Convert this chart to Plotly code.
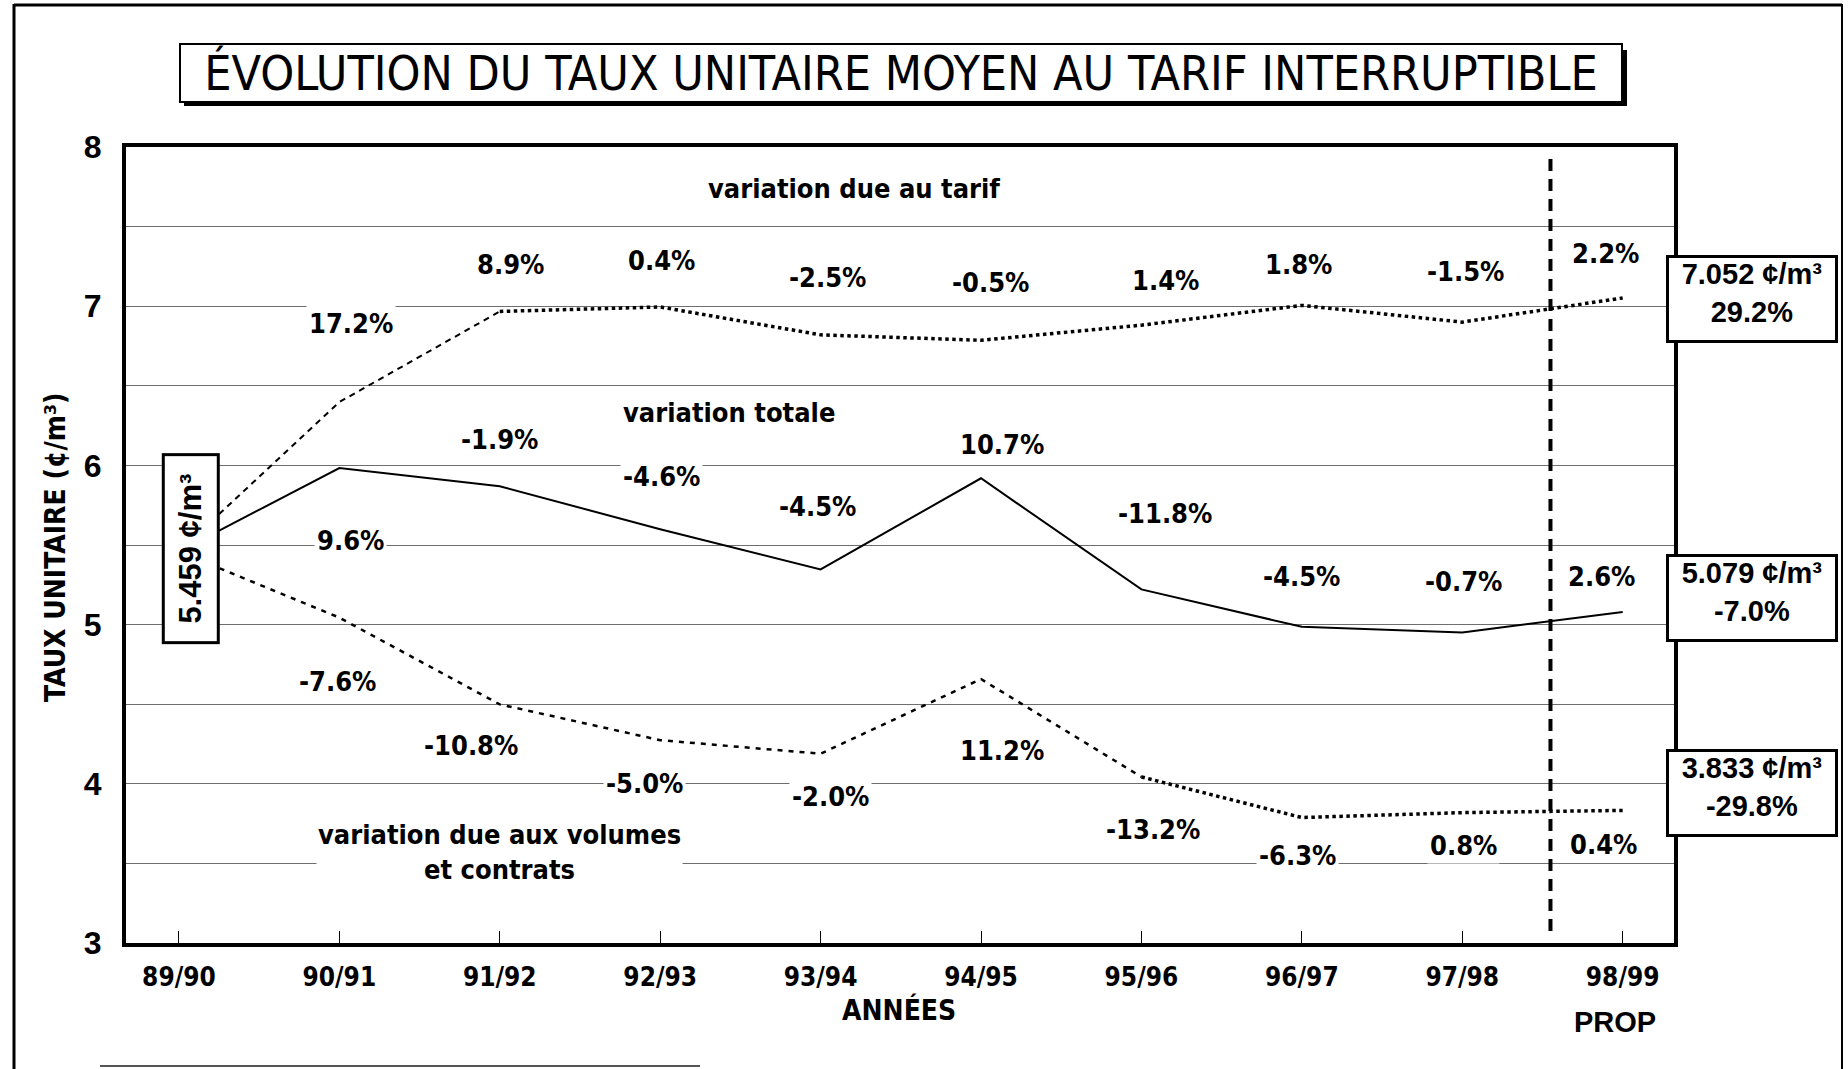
import plotly.graph_objects as go

# ---------------- data ----------------
years = ["89/90", "90/91", "91/92", "92/93", "93/94", "94/95", "95/96", "96/97", "97/98", "98/99"]
tarif = [5.459, 6.398, 6.967, 6.995, 6.820, 6.786, 6.881, 7.005, 6.900, 7.052]
totale = [5.459, 5.983, 5.869, 5.599, 5.347, 5.919, 5.221, 4.986, 4.951, 5.079]
volumes = [5.459, 5.044, 4.499, 4.274, 4.189, 4.658, 4.043, 3.788, 3.819, 3.833]

tarif_pct = ["17.2%", "8.9%", "0.4%", "-2.5%", "-0.5%", "1.4%", "1.8%", "-1.5%", "2.2%"]
totale_pct = ["9.6%", "-1.9%", "-4.6%", "-4.5%", "10.7%", "-11.8%", "-4.5%", "-0.7%", "2.6%"]
volumes_pct = ["-7.6%", "-10.8%", "-5.0%", "-2.0%", "11.2%", "-13.2%", "-6.3%", "0.8%", "0.4%"]

# label positions (x index, y value)
tarif_lab_x = [1.07, 2.07, 3.01, 4.04, 5.06, 6.15, 6.98, 8.02, 8.89]
tarif_lab_y = [6.89, 7.26, 7.29, 7.18, 7.15, 7.16, 7.26, 7.22, 7.33]
totale_lab_x = [1.07, 2.0, 3.01, 3.98, 5.13, 6.15, 7.0, 8.01, 8.87]
totale_lab_y = [5.53, 6.16, 5.93, 5.74, 6.13, 5.70, 5.30, 5.27, 5.30]
volumes_lab_x = [0.99, 1.82, 2.9, 4.06, 5.13, 6.07, 6.97, 8.01, 8.88]
volumes_lab_y = [4.64, 4.24, 4.00, 3.92, 4.21, 3.71, 3.55, 3.61, 3.62]

start_label = "5.459 ¢/m³"
end_labels = ["7.052 ¢/m³<br>29.2%", "5.079 ¢/m³<br>-7.0%", "3.833 ¢/m³<br>-29.8%"]
end_label_y = [7.044, 5.17, 3.94]

title_text = "ÉVOLUTION DU TAUX UNITAIRE MOYEN AU TARIF INTERRUPTIBLE"

# ---------------- layout constants ----------------
W, H = 1848, 1069
L, R, T, B = 126, 1674, 147, 943
YMIN, YMAX = 3, 8
NARROW = "DejaVu Sans Condensed, Liberation Sans Narrow, sans-serif"
ARIAL = "Liberation Sans, Arial, sans-serif"


def px(xp):
    return (xp - L) / (R - L)


def py(yp):
    return (B - yp) / (B - T)


def vy(v):
    return (v - YMIN) / (YMAX - YMIN)


fig = go.Figure()

# tarif line: dashed first part, dotted afterwards
fig.add_trace(go.Scatter(x=years[0:3], y=tarif[0:3], mode="lines",
                         line=dict(color="black", width=2, dash="6px,5px")))
fig.add_trace(go.Scatter(x=years[2:], y=tarif[2:], mode="lines",
                         line=dict(color="black", width=3.5, dash="dot")))
# total line
fig.add_trace(go.Scatter(x=years, y=totale, mode="lines",
                         line=dict(color="black", width=2)))
# volumes line
fig.add_trace(go.Scatter(x=years[0:7], y=volumes[0:7], mode="lines",
                         line=dict(color="black", width=2.5, dash="5px,6px")))
fig.add_trace(go.Scatter(x=years[6:], y=volumes[6:], mode="lines",
                         line=dict(color="black", width=3.5, dash="dot")))

ann = []
pct_font = dict(family=NARROW, size=27, color="black")


def add_labels(texts, xs, ys):
    for t, x, y in zip(texts, xs, ys):
        ann.append(dict(x=x, y=y, xref="x", yref="y", text="<b>%s</b>" % t,
                        showarrow=False, font=pct_font, bgcolor="white", borderpad=2))


add_labels(tarif_pct, tarif_lab_x, tarif_lab_y)
add_labels(totale_pct, totale_lab_x, totale_lab_y)
add_labels(volumes_pct, volumes_lab_x, volumes_lab_y)

lab_font = dict(family=NARROW, size=27, color="black")
ann.append(dict(x=4.21, y=7.74, xref="x", yref="y", text="<b>variation due au tarif</b>",
                showarrow=False, font=lab_font, bgcolor="white"))
ann.append(dict(x=3.43, y=6.33, xref="x", yref="y", text="<b>variation totale</b>",
                showarrow=False, font=lab_font, bgcolor="white"))
ann.append(dict(x=2.0, y=3.57, xref="x", yref="y",
                text="<b>variation due aux volumes<br>et contrats</b>",
                showarrow=False, font=lab_font, bgcolor="white"))

# start box (rotated)
ann.append(dict(x=0.075, y=5.48, xref="x", yref="y", text="<b>%s</b>" % start_label,
                textangle=-90, showarrow=False,
                font=dict(family=ARIAL, size=31, color="black", weight="bold"),
                bgcolor="white", bordercolor="black", borderwidth=3, borderpad=0,
                width=185, height=52))

# end boxes (outside the plot, right side)
for t, y in zip(end_labels, end_label_y):
    ann.append(dict(x=px(1752), y=vy(y), xref="paper", yref="paper", text="<b>%s</b>" % t,
                    xanchor="center", yanchor="middle",
                    showarrow=False, font=dict(family=ARIAL, size=29, color="black"),
                    bgcolor="white", bordercolor="black", borderwidth=3, borderpad=0,
                    width=166, height=82, align="center", valign="top"))

# title
ann.append(dict(x=px(901), y=py(73), xref="paper", yref="paper", text=title_text,
                xanchor="center", yanchor="middle",
                showarrow=False, font=dict(family=NARROW, size=48, color="black"),
                bgcolor="white", bordercolor="black", borderwidth=2, borderpad=0,
                width=1440, height=56))

# axis titles
ann.append(dict(x=px(55), y=py(548), xref="paper", yref="paper",
                xanchor="center", yanchor="middle",
                text="<b>TAUX UNITAIRE (¢/m³)</b>", textangle=-90, showarrow=False,
                font=dict(family=NARROW, size=28, color="black")))
ann.append(dict(x=px(899), y=py(1010), xref="paper", yref="paper", text="<b>ANNÉES</b>",
                xanchor="center", yanchor="middle",
                showarrow=False, font=dict(family=NARROW, size=28, color="black")))
ann.append(dict(x=px(1615), y=py(1022), xref="paper", yref="paper", text="<b>PROP</b>",
                xanchor="center", yanchor="middle",
                showarrow=False, font=dict(family=ARIAL, size=29, color="black")))

shapes = [
    # vertical dashed separator
    dict(type="line", xref="x", yref="paper", x0=8.55, x1=8.55, y0=0.015, y1=0.985,
         line=dict(color="black", width=4, dash="12px,8px")),
    # title box shadow (thicker right / bottom edges)
    dict(type="rect", xref="paper", yref="paper", x0=px(184), x1=px(1627), y0=py(106), y1=py(50),
         fillcolor="black", line=dict(width=0), layer="below"),
    # page frame
    dict(type="line", xref="paper", yref="paper", x0=px(14), x1=px(14), y0=py(4), y1=py(1069),
         line=dict(color="black", width=3)),
    dict(type="line", xref="paper", yref="paper", x0=px(14), x1=px(1842), y0=py(5), y1=py(5),
         line=dict(color="black", width=3)),
    dict(type="line", xref="paper", yref="paper", x0=px(1842), x1=px(1842), y0=py(4), y1=py(1069),
         line=dict(color="black", width=2)),
    dict(type="line", xref="paper", yref="paper", x0=px(100), x1=px(700), y0=py(1066), y1=py(1066),
         line=dict(color="#555", width=2)),
]

fig.update_layout(
    width=W, height=H,
    margin=dict(l=L, r=W - R, t=T, b=H - B),
    paper_bgcolor="white", plot_bgcolor="white",
    showlegend=False,
    annotations=ann, shapes=shapes,
    xaxis=dict(type="category", range=[-0.33, 9.32], showgrid=False,
               showline=True, linecolor="black", linewidth=4, mirror=True,
               ticks="inside", ticklen=12, tickwidth=1, tickcolor="black",
               tickfont=dict(family=NARROW, size=26, color="black", weight="bold"),
               ticklabelstandoff=8, zeroline=False),
    yaxis=dict(range=[YMIN, YMAX], dtick=1, tick0=3, showgrid=True, gridcolor="#6e6e6e", gridwidth=1,
               minor=dict(dtick=0.5, showgrid=True, gridcolor="#6e6e6e", gridwidth=1),
               showline=True, linecolor="black", linewidth=4, mirror=True,
               ticks="", tickfont=dict(family=ARIAL, size=32, color="black", weight="bold"),
               ticklabelstandoff=14, zeroline=False),
)

fig.write_html("out.html", config={"displayModeBar": False},
               post_script="document.body.style.margin='0';document.body.style.overflow='hidden';")
